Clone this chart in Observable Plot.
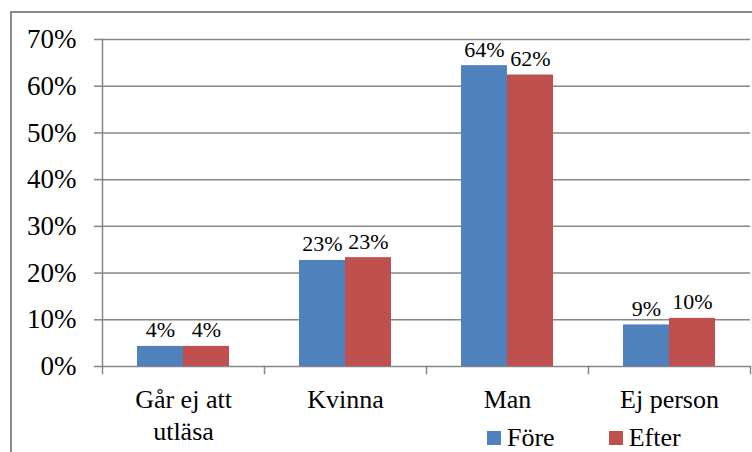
<!DOCTYPE html>
<html><head><meta charset="utf-8">
<script src="https://cdn.jsdelivr.net/npm/d3@7"></script>
<script src="https://cdn.jsdelivr.net/npm/@observablehq/plot@0.6"></script>
<style>
body{margin:0;background:#fff;}
#wrap{position:relative;width:752px;height:452px;overflow:hidden;font-family:"Liberation Serif",serif;background:#fff;}
#border{position:absolute;left:10px;top:11px;width:900px;height:600px;border:2px solid #8a8a8a;box-sizing:border-box;}
#chart{position:absolute;left:0;top:0;}
#chart text{font-family:"Liberation Serif",serif;}
#legend{position:absolute;left:487px;top:425px;line-height:1;}
#legend div{min-height:0 !important;margin:0 !important;line-height:1 !important;}
#legend span{margin-right:54px !important;line-height:1 !important;}
#legend svg{margin-right:6px !important;}
</style></head>
<body><div id="wrap"><div id="border"></div><div id="chart"></div><div id="legend"></div></div>
<script>
const categories = ["Går ej att utläsa", "Kvinna", "Man", "Ej person"];
const categoryLabels = ["Går ej att\nutläsa", "Kvinna", "Man", "Ej person"];
const series = ["Före", "Efter"];
const colors = ["#4F81BD", "#C0504D"];
const fore = [0.043, 0.227, 0.644, 0.089];
const efter = [0.043, 0.233, 0.624, 0.103];
const yTicks = [0, 0.1, 0.2, 0.3, 0.4, 0.5, 0.6, 0.7];

const data = categories.flatMap((c, i) => [
  {cat: c, s: series[0], v: fore[i]},
  {cat: c, s: series[1], v: efter[i]}
]);
const pct = d3.format(".0%");
const gridColor = "#868686";
const serifFont = "'Liberation Serif', serif";

const chart = Plot.plot({
  width: 752, height: 452,
  marginLeft: 101, marginRight: 2, marginTop: 39, marginBottom: 86,
  style: {fontFamily: serifFont, fontSize: "26px", color: "#000", background: "transparent", overflow: "visible"},
  fx: {domain: categories, padding: 0, label: null, axis: null},
  x: {domain: series, paddingInner: 0, paddingOuter: 0.76, axis: null},
  y: {domain: [0, 0.7], axis: null},
  color: {domain: series, range: colors},
  marks: [
    Plot.gridY({ticks: yTicks, stroke: gridColor, strokeOpacity: 1, strokeWidth: 1.5}),
    Plot.frame({anchor: "left", facetAnchor: "left", stroke: gridColor, strokeWidth: 1.5}),
    Plot.frame({anchor: "left", insetTop: 327, insetBottom: -7, stroke: gridColor, strokeWidth: 1.5}),
    Plot.frame({anchor: "right", facetAnchor: "right", insetTop: 327, insetBottom: -7, stroke: gridColor, strokeWidth: 1.5}),
    Plot.axisY({ticks: yTicks, tickFormat: pct, tickSize: 8, tickPadding: 18, stroke: gridColor, strokeWidth: 1.5, fontSize: 27, fontFamily: serifFont, label: null}),
    Plot.barY(data, {fx: "cat", x: "s", y: "v", fill: "s"}),
    Plot.text(data, {fx: "cat", x: "s", y: "v", text: d => pct(d.v), lineAnchor: "bottom", dy: -9, fontSize: 22, fontFamily: serifFont, fill: "#000"}),
    Plot.axisFx({anchor: "bottom", tickSize: 0, tickPadding: 18, fontSize: 26, fontFamily: serifFont, lineHeight: 1.25, label: null,
      tickFormat: d => categoryLabels[categories.indexOf(d)]})
  ]
});
document.getElementById("chart").appendChild(chart);

const legend = Plot.legend({
  color: {domain: series, range: colors},
  legend: "swatches",
  swatchSize: 14,
  style: {fontFamily: serifFont, fontSize: "26px", color: "#000"}
});
document.getElementById("legend").appendChild(legend);
</script>
</body></html>
